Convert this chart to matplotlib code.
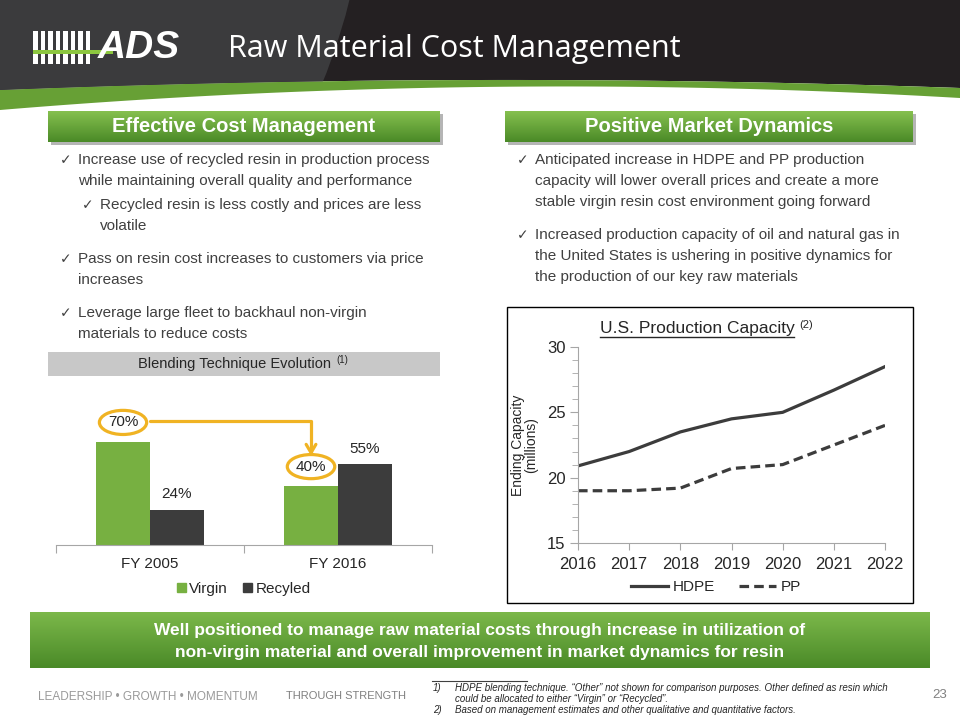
import numpy as np
import matplotlib
matplotlib.use('Agg')
import matplotlib.pyplot as plt
from matplotlib.patches import Rectangle, Circle
from matplotlib.colors import LinearSegmentedColormap

W, H = 960, 720

# ---- data ----
blend_categories = ['FY 2005', 'FY 2016']
virgin_share = [70, 40]
recycled_share = [24, 55]

capacity_years = [2016, 2017, 2018, 2019, 2020, 2021, 2022]
hdpe_capacity = [20.9, 22.0, 23.5, 24.5, 25.0, 26.7, 28.5]
pp_capacity = [19.0, 19.0, 19.2, 20.7, 21.0, 22.5, 24.0]

left_bullets = [
    (0, ["Increase use of recycled resin in production process",
         "while maintaining overall quality and performance"]),
    (1, ["Recycled resin is less costly and prices are less",
         "volatile"]),
    (0, ["Pass on resin cost increases to customers via price",
         "increases"]),
    (0, ["Leverage large fleet to backhaul non-virgin",
         "materials to reduce costs"]),
]
right_bullets = [
    (0, ["Anticipated increase in HDPE and PP production",
         "capacity will lower overall prices and create a more",
         "stable virgin resin cost environment going forward"]),
    (0, ["Increased production capacity of oil and natural gas in",
         "the United States is ushering in positive dynamics for",
         "the production of our key raw materials"]),
]
banner_lines = ["Well positioned to manage raw material costs through increase in utilization of",
                "non-virgin material and overall improvement in market dynamics for resin"]
footnotes = [("1)", ["HDPE blending technique. \u201cOther\u201d not shown for comparison purposes. Other defined as resin which",
                     "could be allocated to either \u201cVirgin\u201d or \u201cRecycled\u201d."]),
             ("2)", ["Based on management estimates and other qualitative and quantitative factors."])]

BODY = ['Liberation Sans', 'DejaVu Sans']
TXT = '#404040'
GOLD = '#f0b323'
GREEN = '#77b041'
DARK = '#3c3c3c'

plt.rcParams['font.family'] = BODY

fig = plt.figure(figsize=(9.6, 7.2), dpi=100)
bg = fig.add_axes([0, 0, 1, 1])
bg.axis('off')


def px_axes(x0, y0, x1, y1):
    return fig.add_axes([x0 / W, 1 - y1 / H, (x1 - x0) / W, (y1 - y0) / H])


def gradient_box(x0, y0, x1, y1, top, bottom, z=3):
    grad = np.linspace(0, 1, 64).reshape(-1, 1)
    cmap = LinearSegmentedColormap.from_list('g', [top, bottom])
    bg.imshow(grad, extent=(x0, x1, y1, y0), cmap=cmap, aspect='auto', zorder=z)


def parabola(pts, x):
    xs, ys = zip(*pts)
    c = np.polyfit(xs, ys, 2)
    return np.polyval(c, x)


# ---- header ----
xs = np.linspace(0, W, 200)
y_dark = parabola([(0, 90), (480, 80), (960, 88)], xs)
y_green = parabola([(0, 110), (480, 87), (960, 98)], xs)
bg.fill_between(xs, 0, y_dark, color='#242022', zorder=1, lw=0)
bg.fill_between(xs, y_dark, y_green, color='#67a035', zorder=1, lw=0)
tex = Circle((-250, -150), 618, color='#3b3b3d', zorder=1.5, lw=0)
bg.add_patch(tex)
clip = bg.fill_between(xs, 0, y_dark, color='none', lw=0)
tex.set_clip_path(clip.get_paths()[0], bg.transData)

# logo
for i in range(8):
    bg.add_patch(Rectangle((33 + i * 7.5, 31), 4.5, 33, color='white', zorder=3, lw=0))
bg.add_patch(Rectangle((33, 50), 80, 4, color='#8cc63f', zorder=4, lw=0))
bg.text(98, 48, 'ADS', color='white', fontsize=28, fontweight='bold', style='italic',
        va='center', ha='left', zorder=5)
bg.text(228, 49, 'Raw Material Cost Management', color='white', fontsize=22,
        va='center', ha='left', zorder=5, family=['Open Sans', 'DejaVu Sans'])

# ---- section headers ----
for (x0, x1, title) in [(48, 440, 'Effective Cost Management'),
                        (505, 913, 'Positive Market Dynamics')]:
    bg.add_patch(Rectangle((x0 + 3, 114), x1 - x0, 31, color='#b5b5b5', zorder=2, lw=0))
    gradient_box(x0, 111, x1, 142, '#86c04f', '#4a8a27')
    bg.text((x0 + x1) / 2, 127, title, color='white', fontsize=14.5, fontweight='bold',
            ha='center', va='center', zorder=5)


def draw_bullets(items, starts, x_check):
    for (level, lines), y0 in zip(items, starts):
        xc = x_check + level * 22
        bg.text(xc, y0, '\u2713', fontsize=10, color=TXT, ha='left', va='center',
                family=['DejaVu Sans'], zorder=5)
        for k, ln in enumerate(lines):
            bg.text(xc + 18, y0 + 21 * k, ln, fontsize=11, color=TXT, ha='left',
                    va='center', zorder=5)


draw_bullets(left_bullets, [160, 205, 259, 313], 60)
draw_bullets(right_bullets, [160, 235], 517)

# ---- blending chart ----
bg.add_patch(Rectangle((48, 352), 392, 24, color='#c8c8c8', zorder=2, lw=0))
bg.text(235, 364, 'Blending Technique Evolution', fontsize=10.5, color='#262626',
        ha='center', va='center', zorder=5)
bg.text(336, 360, '(1)', fontsize=7, color='#262626', ha='left', va='center', zorder=5)

axb = px_axes(56, 380, 432, 545)
x = np.arange(len(blend_categories))
bw = 0.287
axb.bar(x - bw / 2, virgin_share, bw, color=GREEN, label='Virgin')
axb.bar(x + bw / 2, recycled_share, bw, color=DARK, label='Recyled')
axb.set_xlim(-0.5, 1.5)
axb.set_ylim(0, 112)
for s in ['top', 'right', 'left']:
    axb.spines[s].set_visible(False)
axb.spines['bottom'].set_color('#a6a6a6')
axb.set_yticks([])
axb.set_xticks([-0.5, 0.5, 1.5])
axb.set_xticklabels([])
axb.tick_params(axis='x', direction='out', length=6, color='#a6a6a6')
for xi, cat in zip(x, blend_categories):
    axb.annotate(cat, (xi, 0), xytext=(0, -13.5), textcoords='offset points',
                 ha='center', va='center', fontsize=11, color='#262626')

circled = []
for xi, v in zip(x - bw / 2, virgin_share):
    axb.annotate(f'{v}%', (xi, v), xytext=(0, 14), textcoords='offset points',
                 ha='center', va='center', fontsize=11, color='#262626',
                 bbox=dict(boxstyle='ellipse,pad=0.1', fc='none', ec=GOLD, lw=2.3))
    circled.append((xi, v))
for xi, v in zip(x + bw / 2, recycled_share):
    axb.annotate(f'{v}%', (xi, v), xytext=(0, 11), textcoords='offset points',
                 ha='center', va='center', fontsize=11, color='#262626')

# arrow from the FY2005 virgin label to the FY2016 virgin label
(x_a, v_a), (x_b, v_b) = circled
axb.annotate('', xy=(x_b, v_b + 20.5), xytext=(x_a + 0.145, v_a + 14.5),
             arrowprops=dict(arrowstyle='->,head_length=0.6,head_width=0.35', color=GOLD, lw=2.3,
                             connectionstyle='angle,angleA=0,angleB=90,rad=0',
                             shrinkA=0, shrinkB=0))

lh = [Rectangle((0, 0), 1, 1, color=GREEN), Rectangle((0, 0), 1, 1, color=DARK)]
axb.legend(lh, ['Virgin', 'Recyled'], loc='upper center', bbox_to_anchor=(0.5, -0.14),
           ncol=2, frameon=False, handlelength=0.55, handleheight=0.55,
           handletextpad=0.25, columnspacing=1.0, fontsize=11, labelcolor='#262626')

# ---- capacity chart ----
bg.add_patch(Rectangle((507, 307), 406, 296, fill=False, ec='black', lw=1, zorder=5))
ttl = bg.text(697, 328, 'U.S. Production Capacity', fontsize=12.5, color='#262626',
              ha='center', va='center', zorder=6)
bg.text(799, 325, '(2)', fontsize=8, color='#262626', ha='left', va='center', zorder=6)

axl = px_axes(578, 347, 885, 543)
axl.plot(capacity_years, hdpe_capacity, color=DARK, lw=2.3, label='HDPE')
axl.plot(capacity_years, pp_capacity, color=DARK, lw=2.3, ls=(0, (3, 1.6)), label='PP')
axl.set_xlim(2016, 2022)
axl.set_ylim(15, 30)
for s in ['top', 'right']:
    axl.spines[s].set_visible(False)
for s in ['left', 'bottom']:
    axl.spines[s].set_color('#a6a6a6')
axl.set_yticks([15, 20, 25, 30])
axl.set_yticks(np.arange(15, 31, 1), minor=True)
axl.set_xticks(capacity_years)
axl.tick_params(axis='both', which='both', direction='out', color='#a6a6a6',
                labelsize=12, labelcolor='#262626')
axl.tick_params(axis='y', which='major', length=6, pad=3)
axl.tick_params(axis='y', which='minor', length=4)
axl.tick_params(axis='x', which='major', length=5, pad=5)
axl.set_ylabel('Ending Capacity\n(millions)', fontsize=10, color='#262626',
               linespacing=1.0, labelpad=6)
axl.legend(loc='upper center', bbox_to_anchor=(0.45, -0.12), ncol=2, frameon=False,
           handlelength=2.4, handletextpad=0.3, columnspacing=1.6, fontsize=11,
           labelcolor='#262626')

# ---- bottom banner ----
gradient_box(30, 612, 930, 668, '#7cb84a', '#4a8a28')
for k, ln in enumerate(banner_lines):
    bg.text(480, 630 + 23 * k, ln, fontsize=12.5, fontweight='bold', color='white',
            ha='center', va='center', zorder=6)

# ---- footer ----
bg.text(38, 697, 'LEADERSHIP \u2022 GROWTH \u2022 MOMENTUM', fontsize=8.5, color='#9a9a9a',
        ha='left', va='center')
bg.text(286, 696, 'THROUGH STRENGTH', fontsize=8, color='#808080', ha='left', va='center')
bg.text(947, 695, '23', fontsize=9.5, color='#808080', ha='right', va='center')
bg.plot([432, 527], [681, 681], color='#404040', lw=0.8, zorder=5)
fy = 688
for num, lines in footnotes:
    bg.text(433, fy, num, fontsize=7, style='italic', color='#262626', ha='left', va='center')
    for ln in lines:
        bg.text(455, fy, ln, fontsize=7, style='italic', color='#262626', ha='left',
                va='center')
        fy += 11

bg.set_xlim(0, W)
bg.set_ylim(H, 0)

# underline for the capacity chart title
fig.canvas.draw()
bb = ttl.get_window_extent().transformed(bg.transData.inverted())
bg.plot([bb.x0, bb.x1], [bb.y0 + 1, bb.y0 + 1], color='#262626', lw=1, zorder=6)
bg.set_xlim(0, W)
bg.set_ylim(H, 0)

fig.savefig('out.png', dpi=100)
